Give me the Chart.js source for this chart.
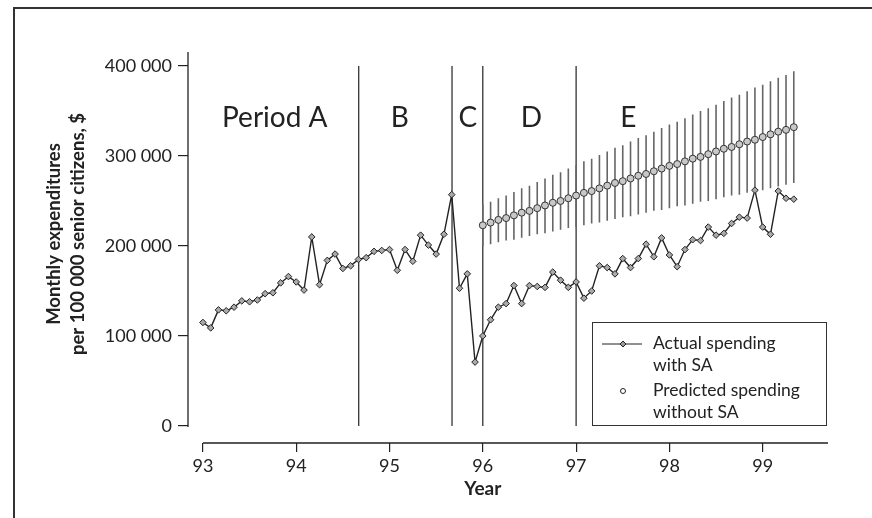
<!DOCTYPE html>
<html lang="en">
  <head>
    <meta charset="UTF-8" />
    <title>Monthly expenditures per 100 000 senior citizens</title>
    <style>
      body { margin: 0; background: #fff; }
      #wrap { position: relative; width: 872px; height: 518px; }
      #frame {
        position: absolute; left: 13px; top: 7px; right: 0; bottom: 0;
        border-top: 2px solid #333; border-left: 2px solid #333;
      }
      canvas { position: absolute; left: 0; top: 0; }
    </style>
  </head>
  <body>
    <div id="wrap">
      <div id="frame"></div>
      <canvas id="myChart" width="872" height="518"></canvas>
    </div>

    <script src="https://cdn.jsdelivr.net/npm/chart.js"></script>
    <script>
      // monthly values, in thousands of $
      const actualStart = 93;
      const actualSpending = [
        115, 109, 129, 128, 132, 139, 138, 140, 147, 148, 159, 166,
        160, 151, 210, 157, 184, 191, 175, 178, 185, 187, 194, 195,
        196, 173, 196, 183, 212, 201, 191, 213, 257, 153, 169, 71,
        100, 118, 132, 136, 156, 136, 156, 155, 154, 171, 162, 154,
        160, 142, 150, 178, 176, 169, 186, 176, 186, 202, 188, 209,
        190, 177, 196, 207, 206, 221, 212, 214, 225, 232, 231, 262,
        221, 213, 261, 253, 252
      ];

      const predictedStart = 96;
      const predictedSpending = [
        223, 226, 229, 231, 234, 237, 239, 242, 245, 248, 250, 253,
        256, 259, 261, 264, 267, 270, 272, 275, 278, 280, 283, 286,
        289, 291, 294, 297, 299, 302, 305, 308, 310, 313, 316, 318,
        321, 324, 327, 329, 332
      ];
      const predictedLow = [
        200, 202, 204, 206, 207, 209, 211, 213, 214, 216, 218, 220,
        221, 223, 225, 226, 228, 230, 232, 233, 235, 237, 239, 240,
        242, 244, 245, 247, 249, 250, 252, 254, 256, 257, 259, 261,
        262, 264, 266, 268, 270
      ];
      const predictedHigh = [
        246, 249, 253, 256, 260, 264, 267, 271, 275, 279, 282, 286,
        290, 294, 297, 301, 305, 309, 312, 316, 320, 323, 327, 331,
        335, 338, 342, 346, 350, 353, 357, 361, 365, 368, 372, 376,
        379, 383, 387, 390, 394
      ];

      const periodBounds = [94.67, 95.67, 96, 97];
      const periodNames = ['Period A', 'B', 'C', 'D', 'E'];
      const periodLabelAt = [93.77, 95.11, 95.84, 96.52, 97.56];

      const yearTicks = [93, 94, 95, 96, 97, 98, 99];
      const valueTicks = [0, 100000, 200000, 300000, 400000];

      const FONT = 'Lato, "Open Sans", sans-serif';
      const INK = '#222';

      const monthly = (start, arr) => arr.map((v, i) => ({ x: start + i / 12, y: v * 1000 }));

      // one vertical segment per month, broken by a null point
      const rangeSegments = [];
      predictedLow.forEach((lo, i) => {
        const x = predictedStart + i / 12;
        rangeSegments.push({ x, y: lo * 1000 }, { x, y: predictedHigh[i] * 1000 }, { x, y: null });
      });

      const extras = {
        id: 'extras',
        afterDraw(chart) {
          const { ctx, chartArea, scales: { x, y } } = chart;
          ctx.save();
          ctx.strokeStyle = INK;
          ctx.lineWidth = 1.3;
          // detached axis lines
          ctx.beginPath();
          ctx.moveTo(chartArea.left, chartArea.top);
          ctx.lineTo(chartArea.left, y.getPixelForValue(0) + 1);
          ctx.moveTo(x.getPixelForValue(93), chartArea.bottom);
          ctx.lineTo(chartArea.right, chartArea.bottom);
          ctx.stroke();

          // period names
          ctx.fillStyle = INK;
          ctx.font = '28px ' + FONT;
          ctx.textAlign = 'center';
          ctx.textBaseline = 'middle';
          periodNames.forEach((name, i) => {
            ctx.fillText(name, x.getPixelForValue(periodLabelAt[i]), 118);
          });

          // y title
          ctx.font = 'bold 18.5px ' + FONT;
          ctx.save();
          ctx.translate(66, 234);
          ctx.rotate(-Math.PI / 2);
          ctx.fillText('Monthly expenditures', 0, -12);
          ctx.fillText('per 100 000 senior citizens, $', 0, 12);
          ctx.restore();

          // x title
          ctx.font = 'bold 19px ' + FONT;
          ctx.fillText('Year', x.getPixelForValue(96), 489);

          // legend
          ctx.lineWidth = 1;
          ctx.strokeStyle = '#333';
          ctx.strokeRect(592.5, 322.5, 234, 103);
          ctx.strokeStyle = INK;
          ctx.beginPath();
          ctx.moveTo(602, 344);
          ctx.lineTo(642, 344);
          ctx.stroke();
          ctx.beginPath();
          ctx.moveTo(623, 341);
          ctx.lineTo(626, 344);
          ctx.lineTo(623, 347);
          ctx.lineTo(620, 344);
          ctx.closePath();
          ctx.fillStyle = '#999';
          ctx.fill();
          ctx.stroke();
          ctx.beginPath();
          ctx.arc(623, 391, 2.5, 0, Math.PI * 2);
          ctx.fillStyle = '#fff';
          ctx.fill();
          ctx.stroke();

          ctx.fillStyle = INK;
          ctx.font = '17.5px ' + FONT;
          ctx.textAlign = 'left';
          ctx.fillText('Actual spending', 653, 343);
          ctx.fillText('with SA', 653, 365);
          ctx.fillText('Predicted spending', 653, 390);
          ctx.fillText('without SA', 653, 412);
          ctx.restore();
        }
      };

      new Chart(document.getElementById('myChart'), {
        type: 'line',
        data: {
          datasets: [
            {
              label: 'Actual spending with SA',
              data: monthly(actualStart, actualSpending),
              borderColor: INK,
              borderWidth: 1.4,
              pointStyle: 'rectRot',
              pointRadius: 3.3,
              pointBackgroundColor: '#aaa',
              pointBorderColor: INK,
              pointBorderWidth: 1,
              tension: 0,
              order: 1
            },
            {
              label: 'Predicted spending without SA',
              data: monthly(predictedStart, predictedSpending),
              showLine: false,
              pointStyle: 'circle',
              pointRadius: 3.5,
              pointBackgroundColor: '#c8c8c8',
              pointBorderColor: '#333',
              pointBorderWidth: 1,
              order: 2
            },
            {
              label: 'range',
              data: rangeSegments,
              borderColor: '#666',
              borderWidth: 1.6,
              pointRadius: 0,
              spanGaps: false,
              order: 3
            },
            ...periodBounds.map(b => ({
              label: 'bound',
              data: [{ x: b, y: 0 }, { x: b, y: 400000 }],
              borderColor: INK,
              borderWidth: 1.2,
              pointRadius: 0,
              order: 4
            }))
          ]
        },
        options: {
          responsive: false,
          animation: false,
          layout: { padding: { top: 52, right: 44, left: 0, bottom: 0 } },
          plugins: {
            legend: { display: false },
            tooltip: { enabled: false }
          },
          scales: {
            x: {
              type: 'linear',
              min: 92.84,
              max: 99.7,
              offset: false,
              afterBuildTicks: s => { s.ticks = yearTicks.map(v => ({ value: v })); },
              afterFit: s => { s.height = 75; },
              border: { display: false },
              grid: { offset: false, drawOnChartArea: false, tickLength: 9, color: INK, lineWidth: 1.2 },
              ticks: {
                autoSkip: false,
                maxRotation: 0,
                padding: 3,
                color: INK,
                font: { family: FONT, size: 18 },
                callback: v => String(v)
              }
            },
            y: {
              min: -18900,
              max: 415500,
              afterBuildTicks: s => { s.ticks = valueTicks.map(v => ({ value: v })); },
              afterFit: s => { s.width = 188; },
              border: { display: false },
              grid: { drawOnChartArea: false, tickLength: 10, color: INK, lineWidth: 1.2 },
              ticks: {
                autoSkip: false,
                padding: 6,
                color: INK,
                font: { family: FONT, size: 18 },
                callback: v => (v === 0 ? '0' : (v / 1000) + ' 000')
              }
            }
          }
        },
        plugins: [extras]
      });
    </script>
  </body>
</html>
